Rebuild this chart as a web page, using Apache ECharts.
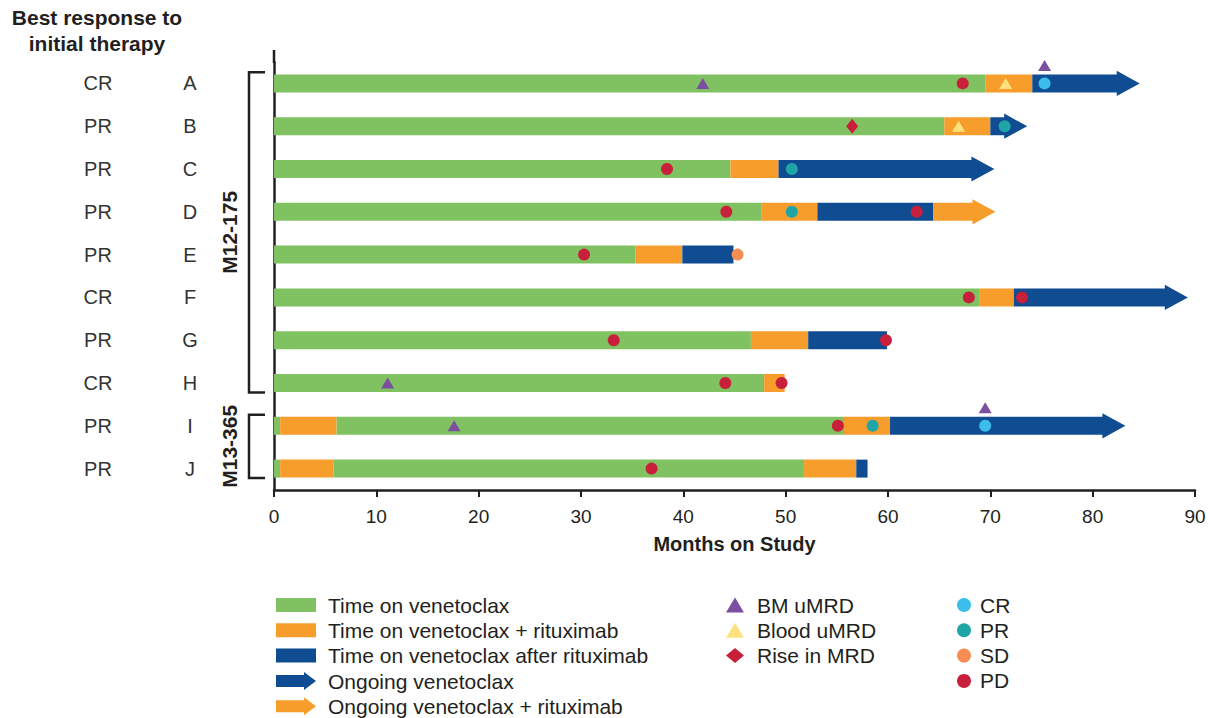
<!DOCTYPE html>
<html><head><meta charset="utf-8">
<script src="https://cdn.jsdelivr.net/npm/echarts@6/dist/echarts.min.js"></script>
<style>html,body{margin:0;padding:0;background:#fff}#c{width:1210px;height:718px}</style>
</head><body><div id="c"></div>
<script>
// ---------- data ----------
const patients = ['A','B','C','D','E','F','G','H','I','J'];
const bestResponse = ['CR','PR','PR','PR','PR','CR','PR','CR','PR','PR'];
const xMin = 0, xMax = 90, xStep = 10;

// segments: [patient, startMonth, endMonth]
const timeOnVenetoclax = [
  ['A',0,69.5],['B',0,65.5],['C',0,44.6],['D',0,47.6],['E',0,35.3],
  ['F',0,68.9],['G',0,46.6],['H',0,47.9],['I',0,0.6],['I',6.1,55.7],
  ['J',0,0.6],['J',5.8,51.8]
];
const timeOnVenRitux = [
  ['A',69.5,74.1],['B',65.5,70.0],['C',44.6,49.3],['D',47.6,53.1],['E',35.3,39.9],
  ['F',68.9,72.3],['G',46.6,52.2],['H',47.9,49.9],['I',0.6,6.1],['I',55.7,60.2],
  ['J',0.6,5.8],['J',51.8,56.9]
];
const timeAfterRitux = [
  ['D',53.1,64.4],['E',39.9,44.9],['G',52.2,59.9],['J',56.9,58.0]
];
const ongoingVenetoclax = [
  ['A',74.1,84.6],['B',70.0,73.6],['C',49.3,70.4],['F',72.3,89.3],['I',60.2,83.2]
];
const ongoingVenRitux = [
  ['D',64.4,70.5]
];

// events: [month, patient]
const bmUMRD = [[41.9,'A'],[75.3,'A'],[11.1,'H'],[17.6,'I'],[69.5,'I']];
const bloodUMRD = [[71.5,'A'],[66.9,'B']];
const riseInMRD = [[56.5,'B']];
const respCR = [[75.3,'A'],[69.5,'I']];
const respPR = [[71.4,'B'],[50.6,'C'],[50.6,'D'],[58.5,'I']];
const respSD = [[45.3,'E']];
const respPD = [[67.3,'A'],[38.4,'C'],[44.2,'D'],[62.8,'D'],[30.3,'E'],[67.9,'F'],[73.1,'F'],
  [33.2,'G'],[59.8,'G'],[44.1,'H'],[49.6,'H'],[55.1,'I'],[36.9,'J']];

const groups = [
  {name:'M12-175', first:'A', last:'H'},
  {name:'M13-365', first:'I', last:'J'}
];

// ---------- styling ----------
const C = {
  green:'#80c261', orange:'#f79d2c', blue:'#104c92',
  purple:'#7b4ea0', yellow:'#fde17d', red:'#c8203b',
  cr:'#3cbeed', pr:'#1fa5a5', sd:'#f68d52', pd:'#c8203b', ink:'#231f20'
};
const FONT = '"Liberation Sans", Arial, Helvetica, sans-serif';

function segRender(arrow){
  return function(params, api){
    const cat = api.value(0);
    const s = api.coord([api.value(1), cat]);
    const e = api.coord([api.value(2), cat]);
    const band = api.size([0,1])[1];
    const h = band*0.42;
    const color = api.visual('color');
    if(!arrow){
      return {type:'rect', shape:{x:s[0], y:s[1]-h/2, width:e[0]-s[0], height:h}, style:{fill:color}};
    }
    const hl = h*1.28, hh = h*0.7;
    return {type:'polygon', shape:{points:[
      [s[0],s[1]-h/2],[e[0]-hl,s[1]-h/2],[e[0]-hl,s[1]-hh],[e[0],s[1]],
      [e[0]-hl,s[1]+hh],[e[0]-hl,s[1]+h/2],[s[0],s[1]+h/2]]}, style:{fill:color}};
  };
}
function segSeries(name, data, color, arrow){
  return {name, type:'custom', data, renderItem:segRender(arrow),
    encode:{x:[1,2], y:0}, itemStyle:{color}, z:2, silent:true};
}
// markers that share a time point with another marker in the same row are lifted above the bar
const allOthers = [bloodUMRD, riseInMRD, respCR, respPR, respSD, respPD];
function liftCollisions(list){
  return list.map(function(d){
    const hit = allOthers.some(function(arr){ return arr.some(function(o){ return o[1]===d[1] && Math.abs(o[0]-d[0])<0.3; }); });
    return hit ? {value:d, symbolOffset:[0,-18]} : {value:d};
  });
}
function markSeries(name, data, color, symbol, size){
  return {name, type:'scatter', data, symbol, symbolSize:size, itemStyle:{color, opacity:1}, z:5, silent:true};
}

const chart = echarts.init(document.getElementById('c'), null, {renderer:'svg'});
const legendText = {fontSize:21, color:C.ink, fontFamily:FONT, lineHeight:21};
const option = {
  animation:false,
  grid:{left:274, right:15, top:62, height:428},
  xAxis:{type:'value', min:xMin, max:xMax, interval:xStep,
    axisLine:{show:true, lineStyle:{color:C.ink, width:2.5}},
    axisTick:{show:true, length:7, lineStyle:{color:C.ink, width:2}},
    axisLabel:{fontSize:19, color:C.ink, fontFamily:FONT, margin:17},
    splitLine:{show:false},
    name:'Months on Study', nameLocation:'middle', nameGap:44,
    nameTextStyle:{fontSize:20, fontWeight:'bold', color:C.ink, fontFamily:FONT}
  },
  yAxis:{type:'category', data:patients, inverse:true,
    axisLine:{show:true, lineStyle:{color:C.ink, width:2.5}},
    axisTick:{show:false},
    axisLabel:{margin:74, fontFamily:FONT, color:'#333',
      formatter:function(v, i){ return '{r|'+bestResponse[i]+'}{s|}{l|'+v+'}'; },
      rich:{r:{width:60, align:'center', fontSize:20, color:'#333', fontFamily:FONT},
            s:{width:52},
            l:{width:20, align:'center', fontSize:20, color:'#333', fontFamily:FONT}}
    }
  },
  legend:[
    {left:276, top:594.5, orient:'vertical', padding:0, itemWidth:40, itemHeight:14, itemGap:4.3,
     selectedMode:false, textStyle:Object.assign({padding:[0,0,0,7]}, legendText),
     data:[{name:'Time on venetoclax', icon:'rect'},{name:'Time on venetoclax + rituximab', icon:'rect'},
           {name:'Time on venetoclax after rituximab', icon:'rect'}]},
    {left:276, top:670.5, orient:'vertical', padding:0, itemWidth:40, itemHeight:18, itemGap:4.3,
     selectedMode:false, textStyle:Object.assign({padding:[0,0,0,7]}, legendText),
     data:[{name:'Ongoing venetoclax', icon:'path://M0,3L28,3L28,0L40,9L28,18L28,15L0,15Z'},
           {name:'Ongoing venetoclax + rituximab', icon:'path://M0,3L28,3L28,0L40,9L28,18L28,15L0,15Z'}]},
    {left:726, top:594.5, orient:'vertical', padding:0, itemWidth:18, itemHeight:15, itemGap:4.3,
     selectedMode:false, textStyle:Object.assign({padding:[0,0,0,8]}, legendText),
     data:[{name:'BM uMRD', icon:'triangle'},{name:'Blood uMRD', icon:'triangle'},{name:'Rise in MRD', icon:'diamond'}]},
    {left:957, top:594.5, orient:'vertical', padding:0, itemWidth:14, itemHeight:14, itemGap:4.3,
     selectedMode:false, textStyle:Object.assign({padding:[0,0,0,4]}, legendText),
     data:[{name:'CR', icon:'circle'},{name:'PR', icon:'circle'},{name:'SD', icon:'circle'},{name:'PD', icon:'circle'}]}
  ],
  series:[
    segSeries('Time on venetoclax', timeOnVenetoclax, C.green, false),
    segSeries('Time on venetoclax + rituximab', timeOnVenRitux, C.orange, false),
    segSeries('Time on venetoclax after rituximab', timeAfterRitux, C.blue, false),
    segSeries('Ongoing venetoclax', ongoingVenetoclax, C.blue, true),
    segSeries('Ongoing venetoclax + rituximab', ongoingVenRitux, C.orange, true),
    markSeries('BM uMRD', liftCollisions(bmUMRD), C.purple, 'triangle', [13,11]),
    markSeries('Blood uMRD', bloodUMRD, C.yellow, 'triangle', [13,11]),
    markSeries('Rise in MRD', riseInMRD, C.red, 'diamond', [12,15]),
    markSeries('CR', respCR, C.cr, 'circle', 12),
    markSeries('PR', respPR, C.pr, 'circle', 12),
    markSeries('SD', respSD, C.sd, 'circle', 12),
    markSeries('PD', respPD, C.pd, 'circle', 12)
  ]
};
chart.setOption(option);

// ---------- annotations positioned from the axes ----------
const x0 = chart.convertToPixel({xAxisIndex:0}, xMin);
const gridRect = chart.getModel().getComponent('grid').coordinateSystem.getRect();
const band = gridRect.height / patients.length;
const graphics = [
  {type:'text', x:97, y:4, style:{text:'Best response to\ninitial therapy', font:'bold 21px '+FONT,
    textAlign:'center', textVerticalAlign:'top', lineHeight:26, fill:C.ink}},
  {type:'line', shape:{x1:x0, y1:50, x2:x0, y2:gridRect.y+1}, style:{stroke:C.ink, lineWidth:2.5}}
];
groups.forEach(function(g){
  const top = chart.convertToPixel({yAxisIndex:0}, g.first) - band*0.26;
  const bot = chart.convertToPixel({yAxisIndex:0}, g.last) + band*0.22;
  const bx = x0 - 25;
  graphics.push({type:'polyline', shape:{points:[[bx+16,top],[bx,top],[bx,bot],[bx+16,bot]]},
    style:{stroke:C.ink, lineWidth:2.5, fill:null}});
  graphics.push({type:'text', x:bx-20, y:(top+bot)/2, rotation:Math.PI/2,
    style:{text:g.name, font:'bold 21px '+FONT, textAlign:'center', textVerticalAlign:'middle', fill:C.ink}});
});
chart.setOption({graphic:graphics});
</script>
</body></html>
